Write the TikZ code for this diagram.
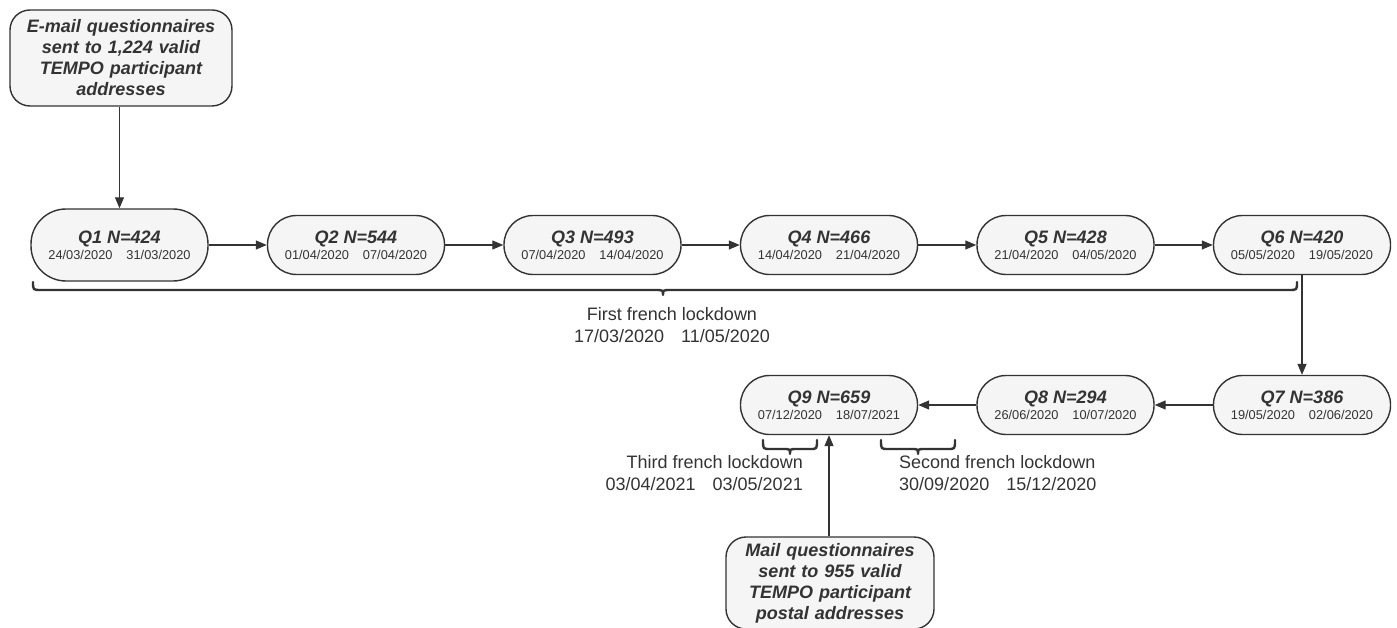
\documentclass[tikz,border=0pt]{standalone}
\usepackage{fontspec}
\setmainfont{Liberation Sans}
\usetikzlibrary{arrows.meta}
\definecolor{boxfill}{HTML}{F5F5F5}
\definecolor{ink}{HTML}{333333}
\newcommand{\qtitle}[1]{{\fontsize{18}{20}\selectfont\bfseries\itshape #1}}
\newcommand{\qdates}[2]{{\fontsize{12.8}{16}\selectfont #1\hspace{14pt}#2}}
\newcommand{\lockdates}[2]{#1\hspace{17pt}#2}
\begin{document}
\begin{tikzpicture}[x=1pt,y=-1pt,
  qbox/.style={draw=ink, fill=boxfill, line width=1.4pt, rounded corners=29pt,
    minimum width=177pt, minimum height=59pt, inner sep=0pt, align=center,
    text=ink, font=\fontsize{18}{20}\selectfont},
  srcbox/.style={draw=ink, fill=boxfill, line width=1.4pt, rounded corners=20pt,
    inner sep=0pt, align=center, text=ink,
    font=\fontsize{18}{21}\selectfont\bfseries\itshape},
  conn/.style={draw=ink, line width=1.3pt, -{Triangle[length=11pt,width=9pt]}},
  lbl/.style={text=ink, inner sep=0pt, font=\fontsize{18}{22.5}\selectfont},
  bracestyle/.style={draw=ink, line width=2.4pt, line cap=round, line join=round}]
\useasboundingbox (0,0) rectangle (1397,628);

% source boxes
\node[srcbox, minimum width=222pt, minimum height=96pt, text width=215pt] (email) at (121,58)
  {E-mail questionnaires\\sent to 1,224 valid\\TEMPO participant\\addresses};
\node[srcbox, minimum width=208pt, minimum height=92pt, text width=200pt] (mail) at (830,583)
  {Mail questionnaires\\sent to 955 valid\\TEMPO participant\\postal addresses};

% questionnaire nodes
\node[qbox, minimum height=72pt, rounded corners=35pt] (q1) at (119.5,245) {\qtitle{Q1 N=424}\\[-4pt]\qdates{24/03/2020}{31/03/2020}};
\node[qbox] (q2) at (356,245) {\qtitle{Q2 N=544}\\[-4pt]\qdates{01/04/2020}{07/04/2020}};
\node[qbox] (q3) at (592.5,245) {\qtitle{Q3 N=493}\\[-4pt]\qdates{07/04/2020}{14/04/2020}};
\node[qbox] (q4) at (829,245) {\qtitle{Q4 N=466}\\[-4pt]\qdates{14/04/2020}{21/04/2020}};
\node[qbox] (q5) at (1065.5,245) {\qtitle{Q5 N=428}\\[-4pt]\qdates{21/04/2020}{04/05/2020}};
\node[qbox] (q6) at (1302,245) {\qtitle{Q6 N=420}\\[-4pt]\qdates{05/05/2020}{19/05/2020}};
\node[qbox] (q7) at (1302,405) {\qtitle{Q7 N=386}\\[-4pt]\qdates{19/05/2020}{02/06/2020}};
\node[qbox] (q8) at (1065.5,405) {\qtitle{Q8 N=294}\\[-4pt]\qdates{26/06/2020}{10/07/2020}};
\node[qbox] (q9) at (829,405) {\qtitle{Q9 N=659}\\[-4pt]\qdates{07/12/2020}{18/07/2021}};

% connectors
\draw[conn] (q1.north |- email.south) -- (q1.north);
\draw[conn] (q1.east) -- (q2.west);
\draw[conn] (q2.east) -- (q3.west);
\draw[conn] (q3.east) -- (q4.west);
\draw[conn] (q4.east) -- (q5.west);
\draw[conn] (q5.east) -- (q6.west);
\draw[conn] (q6.south) -- (q7.north);
\draw[conn] (q7.west) -- (q8.east);
\draw[conn] (q8.west) -- (q9.east);
\draw[conn] (q9.south |- mail.north) -- (q9.south);

% braces
\draw[bracestyle] (33,282) .. controls (33,290) .. (41,290) -- (655,290)
  .. controls (663,290) .. (663,295) .. controls (663,290) .. (671,290)
  -- (1289,290) .. controls (1297,290) .. (1297,282);
\draw[bracestyle] (763,440) .. controls (763,449) .. (770,449) -- (783,449)
  .. controls (790,449) .. (790,454) .. controls (790,449) .. (797,449)
  -- (810,449) .. controls (817,449) .. (817,440);
\draw[bracestyle] (881,440) .. controls (881,449) .. (888,449) -- (911,449)
  .. controls (918,449) .. (918,454) .. controls (918,449) .. (925,449)
  -- (948,449) .. controls (955,449) .. (955,440);

% lockdown labels
\node[lbl, anchor=north, align=center] (first) at (672,307)
  {First french lockdown\\\lockdates{17/03/2020}{11/05/2020}};
\node[lbl, anchor=north east, align=right] (third) at (803,455)
  {Third french lockdown\\\lockdates{03/04/2021}{03/05/2021}};
\node[lbl, anchor=north west, align=left] (second) at (899,455)
  {Second french lockdown\\\lockdates{30/09/2020}{15/12/2020}};
\end{tikzpicture}
\end{document}
